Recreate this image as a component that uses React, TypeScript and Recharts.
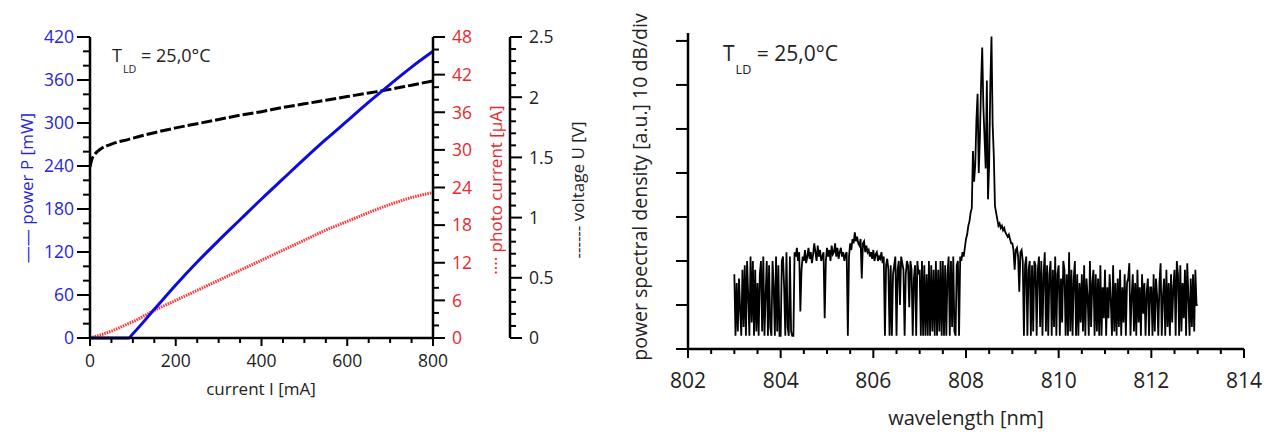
import React from 'react';
import { LineChart, Line, XAxis, YAxis } from 'recharts';

// L-I-V characteristic
const currentMA = [0, 5, 10, 25, 50, 90, 100, 150, 200, 250, 300, 350, 400, 450, 500, 550, 600, 650, 700, 750, 800];
const powerMW = [0, 0, 0, 0, 0, 0, 6, 40, 74, 106, 136, 165, 194, 222, 250, 277, 303, 329, 354, 378, 400];
const photoUA = [0, 0.1, 0.2, 0.5, 1.1, 2.3, 2.6, 4.4, 6.0, 7.6, 9.2, 10.8, 12.4, 14.0, 15.6, 17.2, 18.6, 20.0, 21.3, 22.4, 23.2];
const voltageV = [1.42, 1.49, 1.52, 1.57, 1.61, 1.65, 1.66, 1.705, 1.745, 1.78, 1.815, 1.85, 1.88, 1.915, 1.945, 1.975, 2.005, 2.035, 2.065, 2.1, 2.135];

const currentTicks = [0, 50, 100, 150, 200, 250, 300, 350, 400, 450, 500, 550, 600, 650, 700, 750, 800];
const powerTicks = [0, 20, 40, 60, 80, 100, 120, 140, 160, 180, 200, 220, 240, 260, 280, 300, 320, 340, 360, 380, 400, 420];
const photoTicks = [0, 2, 4, 6, 8, 10, 12, 14, 16, 18, 20, 22, 24, 26, 28, 30, 32, 34, 36, 38, 40, 42, 44, 46, 48];
const voltageTicks = [0, 0.1, 0.2, 0.3, 0.4, 0.5, 0.6, 0.7, 0.8, 0.9, 1, 1.1, 1.2, 1.3, 1.4, 1.5, 1.6, 1.7, 1.8, 1.9, 2, 2.1, 2.2, 2.3, 2.4, 2.5];

// optical spectrum, 0.025 nm sampling from 803 nm, values in dB above the axis
const psd803 = [
  17, 3, 15, 4, 16, 9, 3, 18, 5, 19, 3, 20, 12, 3, 21, 6, 20, 3, 18, 4,
  15, 3, 17, 20, 4, 21, 3, 12, 20, 3, 19, 5, 3, 20, 14, 3, 21, 4, 19, 3,
];
const psd804 = [
  3, 20, 21, 14, 3, 22, 5, 3, 21, 4, 3, 3, 22, 21, 23, 20, 22, 8.5, 18, 21,
  20, 22.5, 19.5, 21, 23, 20.5, 22, 19.5, 21.5, 24, 22, 20, 23.5, 21, 22.5, 20, 21, 22, 7, 20,
];
const psd805 = [
  23, 21, 22.5, 20, 23.5, 21.5, 22, 24, 21, 23, 20.5, 22, 23, 21, 22, 20, 21.5, 22, 3, 21,
  24, 22.5, 25, 24, 26.5, 24.5, 25.5, 24, 23.5, 25, 16, 24, 24.5, 22, 23.5, 22, 22.5, 21, 22, 20.5,
];
const psd806 = [
  22.5, 20, 21.5, 22, 20, 21, 20.5, 22, 19.5, 21, 3, 19, 20.5, 18, 3, 19, 3, 17, 19, 21,
  3, 18, 20, 10, 21, 19.5, 18, 3, 17, 20, 19, 9.5, 20, 18, 3, 16, 19, 3, 20, 17,
];
const psd807 = [
  18, 3, 20, 3, 19, 3, 17, 3, 20, 3, 19, 4, 18, 3, 20, 3, 18, 4, 20, 3,
  20, 3, 19, 3, 17, 21, 3, 20, 5, 21, 4, 3, 19, 20, 3, 21, 20, 22, 21, 23,
];
const psd808 = [
  25, 26, 28, 29, 31, 32, 45, 38, 42, 52, 58, 40, 48, 60, 68.5, 55, 48, 41, 61, 34,
  42, 60, 71, 51, 44, 32.5, 31, 29.5, 28, 28.5, 27.5, 28, 27, 27.5, 26.5, 26, 25.5, 26, 25, 24,
];
const psd809 = [
  24, 22.5, 18, 22.5, 23, 21, 13, 22, 22.5, 20, 3, 19, 21, 3, 18, 20, 3, 19, 4, 20,
  19, 3, 18, 21, 5, 20, 3, 17, 22, 4, 19, 3, 17, 20, 3, 18, 5, 21, 3, 17,
];
const psd810 = [
  19, 3, 16, 6, 20, 18, 3, 17, 3, 22, 4, 18, 3, 16, 20, 3, 17, 3, 15, 6,
  17, 4, 19, 3, 16, 12, 3, 20, 5, 15, 18, 3, 17, 4, 16, 3, 19, 3, 14, 7,
];
const psd811 = [
  18, 3, 14, 7, 17, 11, 3, 19, 4, 15, 3, 16, 5, 18, 3, 14, 6, 17, 3, 15,
  16, 19.5, 3, 12, 17, 4, 15, 3, 18, 6, 14, 3, 17, 8, 15, 3, 13, 16, 3, 14,
];
const psd812 = [
  14, 3, 17, 4, 16, 12, 3, 15, 19.5, 3, 12, 16, 3, 18, 5, 15, 3, 17, 6, 14,
  18, 3, 20, 17, 3, 19, 4, 15, 7, 18, 3, 19.5, 12, 3, 16, 5, 17, 4, 18, 10,
];
const psd813 = [10];

const wavelengthTicks = [802, 802.5, 803, 803.5, 804, 804.5, 805, 805.5, 806, 806.5, 807, 807.5, 808, 808.5, 809, 809.5, 810, 810.5, 811, 811.5, 812, 812.5, 813, 813.5, 814];
const psdTicks = [0, 10, 20, 30, 40, 50, 60, 70];

const FONT = '"Open Sans", sans-serif';
const BLUE = '#2626dc';
const RED = '#e8282c';

// left chart frame (page px)
const L_LEFT = 90;
const L_RIGHT = 433;
const L_BOTTOM = 338;
const V_AXIS_X = 510;

// right chart frame (px inside its box)
const R_LEFT = 88;
const R_BOTTOM = 349;

const ivData = currentMA.map((c, i) => ({ c, p: powerMW[i], ip: photoUA[i], u: voltageV[i] }));

const spectrum = [...psd803, ...psd804, ...psd805, ...psd806, ...psd807, ...psd808, ...psd809, ...psd810, ...psd811, ...psd812, ...psd813]
  .map((v, i) => ({ nm: 803 + i * 0.025, v }));

const axisLine = { stroke: '#000', strokeWidth: 2.5 };

const powerTick = (props: any) => {
  const { y, payload } = props;
  const major = payload.value % 60 === 0;
  return (
    <g>
      <line x1={L_LEFT - (major ? 13 : 7)} x2={L_LEFT} y1={y} y2={y} stroke="#000" strokeWidth={2} />
      {major && (
        <text x={L_LEFT - 16} y={y} dy="0.36em" textAnchor="end" fill={BLUE} fontSize={17.5} fontFamily={FONT}>
          {payload.value}
        </text>
      )}
    </g>
  );
};

const photoTick = (props: any) => {
  const { y, payload } = props;
  const major = payload.value % 6 === 0;
  return (
    <g>
      <line x1={L_RIGHT} x2={L_RIGHT + (major ? 12 : 6)} y1={y} y2={y} stroke="#000" strokeWidth={2} />
      {major && (
        <text x={L_RIGHT + 19} y={y} dy="0.36em" textAnchor="start" fill={RED} fontSize={17.5} fontFamily={FONT}>
          {payload.value}
        </text>
      )}
    </g>
  );
};

const voltageTick = (props: any) => {
  const { y, payload } = props;
  const major = Math.abs(payload.value * 2 - Math.round(payload.value * 2)) < 1e-6;
  return (
    <g>
      <line x1={V_AXIS_X} x2={V_AXIS_X + (major ? 12 : 6)} y1={y} y2={y} stroke="#000" strokeWidth={2} />
      {major && (
        <text x={V_AXIS_X + 19} y={y} dy="0.36em" textAnchor="start" fill="#222" fontSize={17.5} fontFamily={FONT}>
          {payload.value}
        </text>
      )}
    </g>
  );
};

const currentTick = (props: any) => {
  const { x, payload } = props;
  const major = payload.value % 200 === 0;
  return (
    <g>
      <line x1={x} x2={x} y1={L_BOTTOM} y2={L_BOTTOM + (major ? 8 : 5)} stroke="#000" strokeWidth={2} />
      {major && (
        <text x={x} y={L_BOTTOM + 23} dy="0.36em" textAnchor="middle" fill="#222" fontSize={17.5} fontFamily={FONT}>
          {payload.value}
        </text>
      )}
    </g>
  );
};

const psdTick = (props: any) => {
  const { y } = props;
  return <line x1={R_LEFT - 12} x2={R_LEFT} y1={y} y2={y} stroke="#000" strokeWidth={2} />;
};

const wavelengthTick = (props: any) => {
  const { x, payload } = props;
  const major = payload.value % 2 === 0;
  return (
    <g>
      <line x1={x} x2={x} y1={R_BOTTOM} y2={R_BOTTOM + (major ? 9 : 5)} stroke="#000" strokeWidth={2} />
      {major && (
        <text x={x} y={R_BOTTOM + 31} dy="0.36em" textAnchor="middle" fill="#222" fontSize={21} fontFamily={FONT}>
          {payload.value}
        </text>
      )}
    </g>
  );
};

const rotated = (cx: number, cy: number, size: number, color: string): React.CSSProperties => ({
  position: 'absolute',
  left: cx,
  top: cy,
  transform: 'translate(-50%, -50%) rotate(-90deg)',
  whiteSpace: 'nowrap',
  fontSize: size,
  lineHeight: 1,
  color,
});

const plain = (cx: number, cy: number, size: number): React.CSSProperties => ({
  position: 'absolute',
  left: cx,
  top: cy,
  transform: 'translate(-50%, -50%)',
  whiteSpace: 'nowrap',
  fontSize: size,
  lineHeight: 1,
  color: '#222',
});

function TempLabel({ left, top, size }: { left: number; top: number; size: number }) {
  return (
    <div style={{ position: 'absolute', left, top, fontSize: size, lineHeight: 1, color: '#222', whiteSpace: 'nowrap' }}>
      <span>T</span>
      <span style={{ fontSize: size * 0.6, position: 'relative', top: size * 0.6, marginLeft: 1 }}>LD</span>
      <span> = 25,0°C</span>
    </div>
  );
}

export default function App() {
  return (
    <div style={{ position: 'absolute', left: 0, top: 0, width: 1278, height: 434, background: '#fff', fontFamily: FONT }}>
      <div style={{ position: 'absolute', left: 0, top: 0 }}>
        <LineChart width={600} height={434} data={ivData} margin={{ top: 37, right: 0, bottom: 0, left: 0 }}>
          <XAxis
            dataKey="c"
            type="number"
            domain={[0, 800]}
            ticks={currentTicks}
            interval={0}
            height={96}
            axisLine={axisLine}
            tickLine={false}
            tick={currentTick}
          />
          <XAxis xAxisId="top" orientation="top" type="number" domain={[0, 800]} height={0} axisLine={axisLine} tick={false} tickLine={false} />
          <YAxis
            yAxisId="p"
            orientation="left"
            type="number"
            domain={[0, 420]}
            ticks={powerTicks}
            interval={0}
            width={90}
            axisLine={axisLine}
            tickLine={false}
            tick={powerTick}
          />
          <YAxis
            yAxisId="ip"
            orientation="right"
            type="number"
            domain={[0, 48]}
            ticks={photoTicks}
            interval={0}
            width={77}
            axisLine={axisLine}
            tickLine={false}
            tick={photoTick}
          />
          <YAxis
            yAxisId="v"
            orientation="right"
            type="number"
            domain={[0, 2.5]}
            ticks={voltageTicks}
            interval={0}
            width={90}
            axisLine={axisLine}
            tickLine={false}
            tick={voltageTick}
          />
          <Line yAxisId="v" dataKey="u" type="monotone" stroke="#000" strokeWidth={3} strokeDasharray="11 3" dot={false} isAnimationActive={false} />
          <Line yAxisId="ip" dataKey="ip" type="monotone" stroke="#ff3030" strokeWidth={3} strokeDasharray="1.5 1" dot={false} isAnimationActive={false} />
          <Line yAxisId="p" dataKey="p" type="monotone" stroke="#0c0ce0" strokeWidth={3} dot={false} isAnimationActive={false} />
        </LineChart>
      </div>

      <div style={{ position: 'absolute', left: 600, top: 0 }}>
        <LineChart width={678} height={434} data={spectrum} margin={{ top: 33, right: 34, bottom: 0, left: 0 }}>
          <XAxis
            dataKey="nm"
            type="number"
            domain={[802, 814]}
            ticks={wavelengthTicks}
            interval={0}
            height={85}
            axisLine={axisLine}
            tickLine={false}
            tick={wavelengthTick}
          />
          <XAxis xAxisId="top" orientation="top" type="number" domain={[802, 814]} height={0} axisLine={axisLine} tick={false} tickLine={false} />
          <YAxis
            type="number"
            domain={[0, 71.8]}
            ticks={psdTicks}
            interval={0}
            width={88}
            axisLine={axisLine}
            tickLine={false}
            tick={psdTick}
          />
          <YAxis yAxisId="frame" orientation="right" type="number" domain={[0, 1]} width={0} axisLine={axisLine} tick={false} tickLine={false} />
          <Line dataKey="v" type="linear" stroke="#000" strokeWidth={1.8} dot={false} isAnimationActive={false} />
        </LineChart>
      </div>

      <TempLabel left={112} top={46} size={18} />
      <TempLabel left={723} top={43} size={21} />

      <div style={rotated(26, 188, 17, BLUE)}>—— power P [mW]</div>
      <div style={rotated(495, 190, 17, RED)}>···· photo current [µA]</div>
      <div style={rotated(577, 190, 17, '#222')}>------ voltage U [V]</div>
      <div style={plain(261, 388, 17)}>current I [mA]</div>

      <div style={rotated(640, 187, 19.5, '#222')}>power spectral density [a.u.] 10 dB/div</div>
      <div style={plain(966, 418, 20)}>wavelength [nm]</div>
    </div>
  );
}
